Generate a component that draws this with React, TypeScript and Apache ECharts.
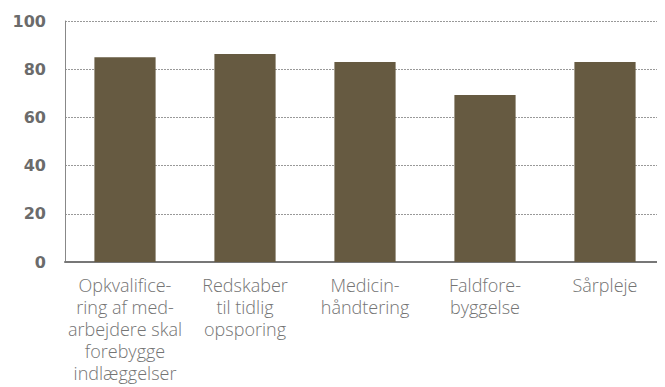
import React, { useEffect, useRef } from "react";
import * as echarts from "echarts";

const categories = [
  "Opkvalifice-\nring af med-\narbejdere skal\nforebygge\nindlæggelser",
  "Redskaber\ntil tidlig\nopsporing",
  "Medicin-\nhåndtering",
  "Faldfore-\nbyggelse",
  "Sårpleje",
];
const values = [85, 86.3, 83, 69.3, 83];

export default function App() {
  const ref = useRef<HTMLDivElement>(null);
  useEffect(() => {
    const chart = echarts.init(ref.current!, undefined, { renderer: "svg" });
    chart.setOption({
      animation: false,
      grid: { left: 65, right: 0, top: 21, bottom: 125, containLabel: false },
      xAxis: {
        type: "category",
        data: categories,
        axisLine: { lineStyle: { color: "#777", width: 2 } },
        axisTick: { show: false },
        axisLabel: {
          interval: 0,
          color: "#747474",
          fontFamily: "Open Sans",
          fontWeight: 300,
          fontSize: 18,
          lineHeight: 22,
          margin: 12,
          align: "center",
        },
      },
      yAxis: {
        type: "value",
        min: 0,
        max: 100,
        interval: 20,
        axisLine: { show: true, lineStyle: { color: "#888", width: 1 } },
        axisTick: { show: false },
        splitLine: { lineStyle: { color: "#999", type: [2, 1], width: 1 } },
        axisLabel: {
          color: "#6b6b6b",
          fontFamily: "DejaVu Sans",
          fontWeight: "bold",
          fontSize: 16,
          margin: 19,
        },
      },
      series: [
        {
          type: "bar",
          data: values,
          barWidth: "51%",
          itemStyle: { color: "#665A41" },
        },
      ],
    });
    return () => chart.dispose();
  }, []);
  return <div ref={ref} style={{ width: 665, height: 387, marginLeft: -8, marginTop: -8 }} />;
}
